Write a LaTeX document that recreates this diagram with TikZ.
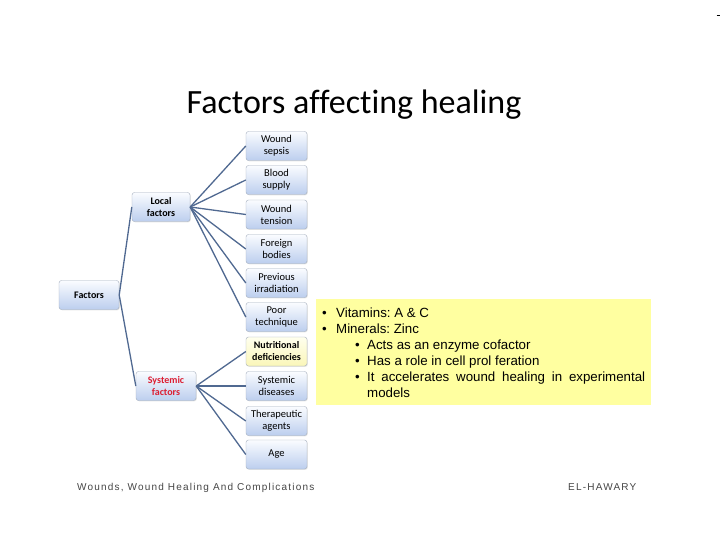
\documentclass[tikz,border=0pt]{standalone}
\usepackage{fontspec}
\setmainfont{Carlito}
\newfontfamily\titlef[Ligatures=NoCommon]{Carlito}
\newfontfamily\arialf{Liberation Sans}
\newfontfamily\footf[LetterSpace=12]{Liberation Sans}
\usetikzlibrary{shadows}
\definecolor{linkc}{RGB}{80,105,145}
\definecolor{boxtop}{RGB}{250,252,255}
\definecolor{boxbot}{RGB}{188,206,238}
\definecolor{boxline}{RGB}{165,175,190}
\definecolor{noteyellow}{RGB}{255,255,160}
\definecolor{nutrtop}{RGB}{255,255,238}
\definecolor{nutrbot}{RGB}{250,246,185}
\definecolor{sysred}{RGB}{220,30,50}
\definecolor{footgray}{RGB}{70,70,70}
\newcommand\bulA{\makebox[15pt][l]{\hspace{1pt}\textbullet}}
\newcommand\bulB{\hspace*{33pt}\makebox[13pt][l]{\hspace{1pt}\textbullet}}
\begin{document}
\begin{tikzpicture}[x=1pt,y=-1pt,
  factorbox/.style={draw=boxline, rounded corners=2.5pt, top color=boxtop, bottom color=boxbot,
    minimum height=29pt, inner sep=1pt, align=center, font=\fontsize{10.5}{12}\selectfont,
    drop shadow={opacity=0.2, shadow xshift=0.8pt, shadow yshift=-0.8pt}},
  leafbox/.style={factorbox, minimum width=61pt, text width=59pt},
  link/.style={draw=linkc, line width=1.3pt},
  plain/.style={inner sep=0pt}]
\useasboundingbox (0,0) rectangle (720,540);
\fill[white] (0,0) rectangle (720,540);
\draw[black, line width=0.7pt] (716.5,15) -- (720,15);

\node[plain, anchor=base, font=\titlef\fontsize{34}{34}\selectfont] (title) at (354,114) {Factors affecting healing};

\node[factorbox, minimum width=60pt, font=\bfseries\fontsize{10}{12}\selectfont] (f) at (89,295) {Factors};
\node[factorbox, minimum width=58pt, font=\bfseries\fontsize{10}{12}\selectfont] (l) at (161,207) {Local\\factors};
\node[factorbox, minimum width=60pt, text=sysred, font=\bfseries\fontsize{10}{12}\selectfont] (s) at (166,386) {Systemic\\factors};

\node[leafbox] (a1) at (276.5,146) {Wound\\sepsis};
\node[leafbox] (a2) at (276.5,180) {Blood\\supply};
\node[leafbox] (a3) at (276.5,214.5) {Wound\\tension};
\node[leafbox] (a4) at (276.5,249) {Foreign\\bodies};
\node[leafbox] (a5) at (276.5,283) {Previous\\irradiation};
\node[leafbox] (a6) at (276.5,317) {Poor\\technique};
\node[leafbox, top color=nutrtop, bottom color=nutrbot, font=\bfseries\fontsize{10}{12}\selectfont] (b1) at (276.5,351.5) {Nutritional\\deficiencies};
\node[leafbox] (b2) at (276.5,386) {Systemic\\diseases};
\node[leafbox] (b3) at (276.5,421) {Therapeutic\\agents};
\node[leafbox] (b4) at (276.5,454.5) {Age};

\draw[link] (f.east) -- (l.west);
\draw[link] (f.east) -- (s.west);
\foreach \n in {a1,a2,a3,a4,a5,a6} \draw[link] (l.east) -- (\n.west);
\foreach \n in {b1,b2,b3,b4} \draw[link] (s.east) -- (\n.west);

\node[fill=noteyellow, inner sep=0pt, minimum width=335pt, minimum height=106pt, anchor=north west] (note) at (316,299) {};
\node[plain, anchor=north west, align=left, font=\arialf\fontsize{13.3}{16}\selectfont\frenchspacing] (notetext) at (321,308) {%
\bulA Vitamins: A \& C\\
\bulA Minerals: Zinc\\
\bulB Acts as an enzyme cofactor\\
\bulB Has a role in cell prol feration\\
\bulB\parbox[t]{278pt}{\hyphenpenalty=10000 It accelerates wound healing in experimental \mbox{models}}};

\node[plain, anchor=base west, font=\footf\fontsize{10}{10}\selectfont, text=footgray] (foot1) at (77,490) {Wounds, Wound Healing And Complications};
\node[plain, anchor=base west, font=\footf\fontsize{10}{10}\selectfont, text=footgray] (foot2) at (568,490) {EL-HAWARY};
\end{tikzpicture}
\end{document}
